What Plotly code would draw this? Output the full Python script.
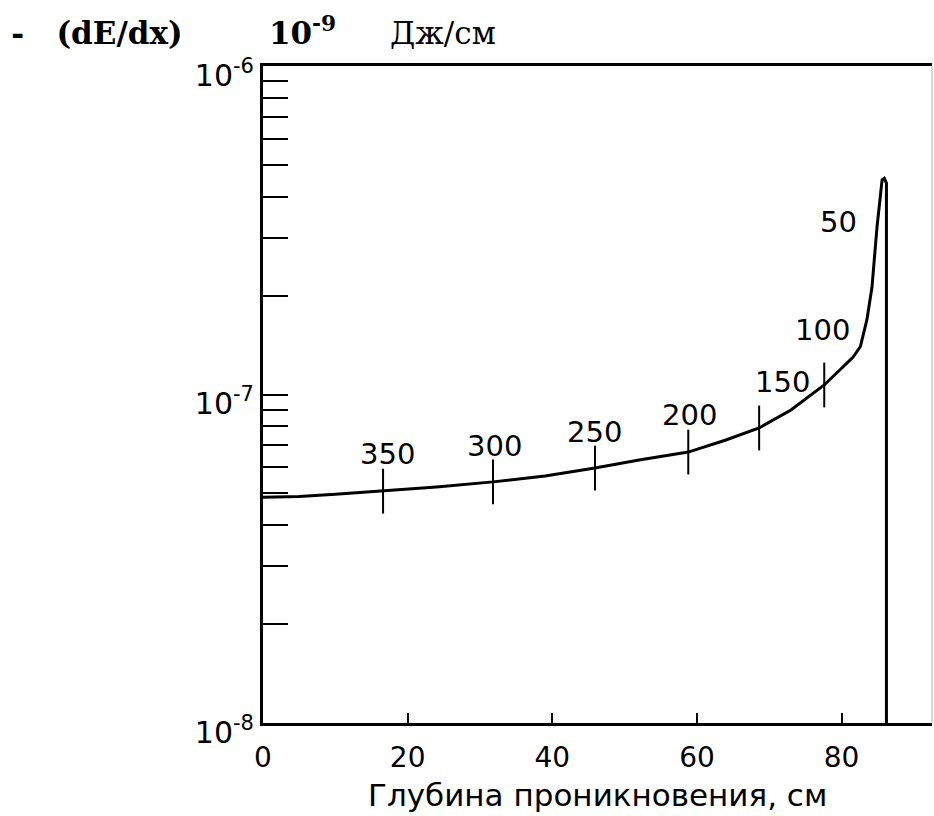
import math
import plotly.graph_objects as go

# Bragg curve: depth (cm) vs -(dE/dx) (J/cm)
depth = [0, 5, 10, 16.6, 24, 31.8, 39, 45.9, 52, 58.8, 64, 68.6, 73, 77.6,
         79.8, 81.6, 82.6, 83.5, 84.2, 84.9, 85.6, 85.9, 86.2, 86.2]
dedx = [4.87e-8, 4.89e-8, 4.97e-8, 5.08e-8, 5.23e-8, 5.42e-8, 5.65e-8, 5.97e-8,
        6.32e-8, 6.68e-8, 7.27e-8, 7.91e-8, 8.97e-8, 1.069e-7,
        1.188e-7, 1.30e-7, 1.40e-7, 1.69e-7, 2.12e-7, 3.24e-7, 4.50e-7, 4.55e-7, 4.4e-7, 1e-8]

# energy marks on the curve
tick_depth = [16.6, 31.8, 45.9, 58.8, 68.6, 77.6]
tick_dedx = [5.08e-8, 5.42e-8, 5.97e-8, 6.68e-8, 7.91e-8, 1.069e-7]

# energy labels (MeV) and the curve point each one belongs to
label_text = ["350", "300", "250", "200", "150", "100", "50"]
label_depth = [16.6, 31.8, 45.9, 58.8, 77.6, 82.6, 84.9]
label_dedx = [5.08e-8, 5.42e-8, 5.97e-8, 6.68e-8, 1.069e-7, 1.40e-7, 3.24e-7]

x_tickvals = [0, 20, 40, 60, 80]
y_tickvals = [1e-8, 1e-7, 1e-6]
y_ticktext = ["10<sup>-8</sup>", "10<sup>-7</sup>", "10<sup>-6</sup>"]
y_minor = [m * 10 ** e for e in (-8, -7) for m in range(2, 10)]

NB = "\u00a0"
title_text = ("-" + NB * 3 + "(dE/dx)" + NB * 8 + "10<sup>-9</sup>" + NB * 5
              + "<span style='font-weight:normal'>Дж/см</span>")
xtitle_text = "Глубина проникновения, см"

fig = go.Figure()
fig.add_trace(go.Scatter(x=depth, y=dedx, mode="lines",
                         line=dict(color="black", width=3), hoverinfo="skip"))
fig.add_trace(go.Scatter(x=tick_depth, y=tick_dedx, mode="markers",
                         marker=dict(symbol="line-ns", size=32, color="black",
                                     line=dict(color="black", width=2)),
                         hoverinfo="skip"))

# label offsets (style): [xshift, yshift, xanchor]
offsets = [(4, 37, "center"), (2, 36, "center"), (0, 36, "center"), (1, 37, "center"),
           (-12, 3, "right"), (-8, 17, "right"), (-18, 5, "right")]
for t, xd, yd, (dx, dy, xa) in zip(label_text, label_depth, label_dedx, offsets):
    fig.add_annotation(x=xd, y=math.log10(yd), xref="x", yref="y", text=t, showarrow=False,
                       xshift=dx, yshift=dy, xanchor=xa, yanchor="middle",
                       font=dict(family="DejaVu Sans", size=29, color="black"))

fig.add_annotation(x=0.5, y=-0.11, xref="paper", yref="paper", text=xtitle_text,
                   showarrow=False, xanchor="center", yanchor="middle",
                   font=dict(family="DejaVu Sans", size=31, color="black"))

fig.add_shape(type="line", xref="paper", yref="paper", x0=1, x1=1, y0=0, y1=1,
              line=dict(color="#b0b0b0", width=1))

fig.update_layout(
    width=934, height=816,
    margin=dict(l=263, r=2, t=66, b=93),
    paper_bgcolor="white", plot_bgcolor="white",
    showlegend=False,
    title=dict(text=title_text, x=0.012, xanchor="left", y=1 - 33 / 816, yanchor="middle",
               xref="container", yref="container",
               font=dict(family="DejaVu Serif", size=31, color="black", weight="bold")),
    xaxis=dict(range=[0, 92.5], tickvals=x_tickvals, ticks="inside", ticklen=10,
               tickwidth=2, tickcolor="black", showgrid=False, zeroline=False,
               showline=True, linecolor="black", linewidth=2.5, mirror=True,
               ticklabelstandoff=8,
               tickfont=dict(family="DejaVu Sans", size=28, color="black")),
    yaxis=dict(type="log", range=[-8, -6], tickvals=y_tickvals, ticktext=y_ticktext,
               ticks="inside", ticklen=25, tickwidth=2, tickcolor="black",
               showgrid=False, zeroline=False, showline=True, linecolor="black",
               linewidth=3, mirror=False, ticklabelshift=9,
               minor=dict(tickvals=y_minor, ticks="inside", ticklen=25, tickwidth=2,
                          tickcolor="black", showgrid=False),
               tickfont=dict(family="DejaVu Sans", size=30, color="black")),
)

fig.write_html("out.html")
